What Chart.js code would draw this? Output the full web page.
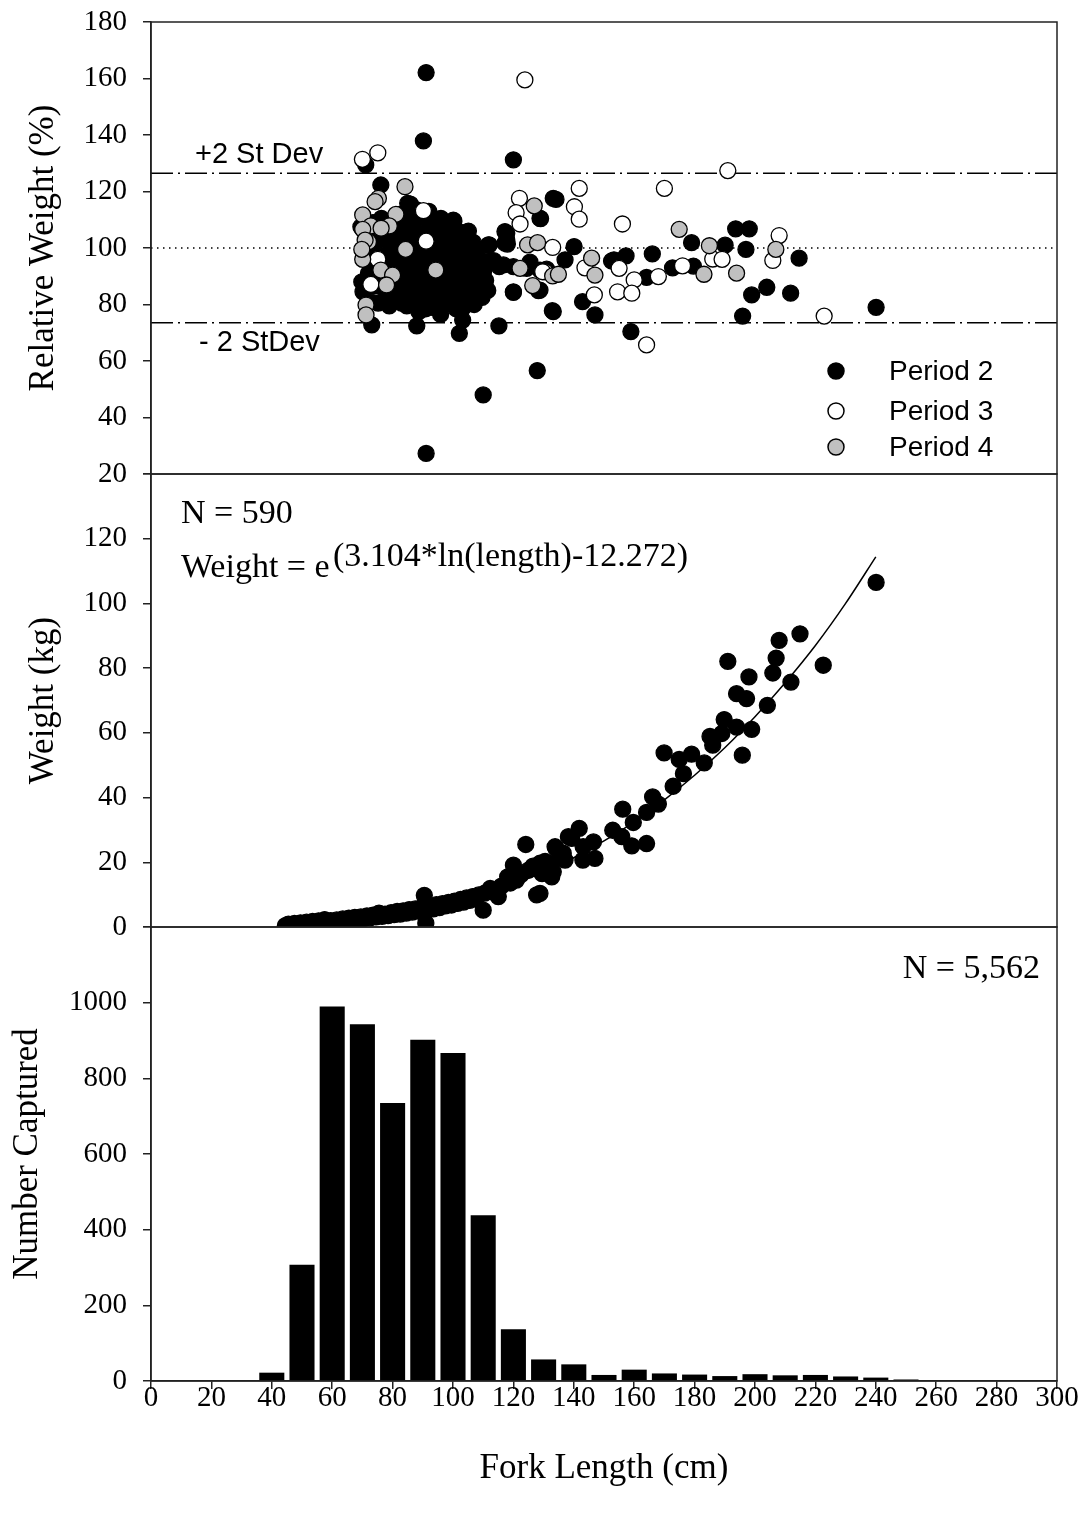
<!DOCTYPE html>
<html>
<head>
<meta charset="utf-8">
<script src="https://cdn.jsdelivr.net/npm/chart.js@4"></script>
<style>
  body { margin: 0; background: #fff; }
  #wrap { position: relative; width: 1084px; height: 1515px; overflow: hidden; }
  #wrap canvas { position: absolute; left: 0; top: 0; }
  #wrap canvas#relChart { top: -20px; }
</style>
</head>
<body>
<div id="wrap">
  <canvas id="relChart" width="1084" height="1515"></canvas>
  <canvas id="wtChart" width="1084" height="1515"></canvas>
  <canvas id="lenChart" width="1084" height="1515"></canvas>
</div>
<script>
// ======================================================
// DATA
// ======================================================

// --- relative weight (%) vs fork length (cm) ---
const relPeriod2 = [
  // main cluster
  [69.5,107.5],[69.8,88],[70.2,84.5],[70.6,96.5],[71.5,104],[72,91],[72.4,81],[73,99],[73.5,109],[74,86.5],
  [74.8,94],[75.2,80.5],[75.6,102.5],[76.3,110.5],[76.8,88.5],[77.2,97],[77.8,84],[78.2,105],[78.6,92],[78.9,79.5],
  [79.5,100.5],[80,108],[80.4,87.5],[80.8,95],[81.3,82],[81.7,103.5],[82.2,90.5],[82.6,112],[83,98],[83.4,85],
  [83.9,106.5],[84.3,93],[84.7,79.5],[85.1,101],[85.5,88.5],[85.9,115.5],[86.3,96.5],[86.8,83],[87.2,108.5],[87.6,91.5],
  [88,103.5],[88.3,86.5],[88.7,77.5],[89.1,98.5],[89.5,111],[89.9,93.5],[90.3,82],[90.7,105],[91.1,89],[91.5,99.5],
  [91.9,85],[92.3,109],[92.7,95],[93.1,79],[93.5,102],[93.9,88],[94.3,106.5],[94.7,92],[95.1,83.5],[95.5,98],
  [95.9,76.5],[96.3,104],[96.7,89.5],[97.1,94.5],[97.5,84.5],[97.9,108],[98.3,100],[98.7,80.5],[99.1,91],[99.5,96],
  [99.9,86],[100.3,109.5],[100.7,102.5],[101.1,93],[101.5,82.5],[101.9,97.5],[102.3,88.5],[102.7,105.5],[103.1,78.5],[103.5,94],
  [103.9,100.5],[104.3,85.5],[104.7,91],[105.1,106],[105.5,97],[105.9,81],[106.3,88],[106.7,102],[107.1,93.5],[107.5,84],
  [107.9,98.5],[108.3,90.5],[108.7,87],[109.1,95.5],[109.6,82.5],[110.2,92],[110.8,88.5],[111.5,85],
  [82,95.5],[84,88],[86,92],[88,96],[90,88.5],[92,91],[94,97.5],[96,93],[98,88.5],[100,98],[102,92],[104,96.5],[106,93],
  [83,102.5],[85,106],[87,100],[89,104],[91,102.5],[93,106],[95,101],[97,103.5],[99,105.5],[101,101],[103,103.5],
  [81,86],[83,80.5],[85,84],[87,87.5],[89,80.5],[91,78.5],[93,84],[95,87.5],[97,80],[99,83],[101,78.5],[103,83],
  [105,87],[107,80],[92,113],[96,110.5],[88,113.5],[84,110],[100,107],
  // tail and scattered fish
  [111.7,101.1],[117.8,102.8],[111.7,94.6],[116.7,94],[124.4,92.8],[128.8,92.2],[120,84.5],[128.8,85.1],[133.2,77.5],
  [133.2,117.6],[128.8,110.5],[117.2,105.8],[117.2,101.7],[113.5,95.5],[125.5,95],[131,92.5],
  [91.1,162.1],[90.2,137.9],[120,131.2],[71.1,129.4],[76.1,122.3],[134.1,117.2],[85,115.8],[129,110.4],[117.8,105.2],
  [100.1,109.9],[93.3,108.5],[104.5,105.4],[112,101.1],[118,101.4],[140.1,100.5],[137.1,95.8],[112,95.5],[115.3,93.4],
  [120,93.4],[152.5,95.4],[157.3,97.2],[166,97.9],[179,101.9],[190.1,101],[193.6,106.8],[198.1,106.8],[197,99.5],
  [214.6,96.4],[172.7,93],[179.6,93.6],[164.1,89.6],[153.3,95.8],[120,84.3],[128.3,84.9],[142.9,81],[132.9,77.8],
  [147,76.3],[198.9,83.4],[203.9,86.1],[211.8,84],[195.9,75.9],[158.9,70.4],[102.1,69.8],[88,72.4],[103.2,74.5],
  [115.2,72.4],[73.1,72.8],[127.9,56.6],[110,48],[91.1,27.3],[240.1,79]
];
const relPeriod3 = [
  [123.8,159.5],[70,131.4],[75.1,133.7],[191,127.4],[141.8,121.1],[170,121.1],[122,117.6],[140.2,114.6],[141.8,110.2],
  [120.9,112.5],[122.2,108.5],[90.2,113.2],[156.1,108.5],[208,104.4],[133,100.2],[91.1,102.4],[186,96.1],[189.1,96],
  [205.9,95.6],[130.5,91.6],[143.7,93],[155,92.8],[160,88.7],[168,89.9],[154.5,84.5],[159.2,84],[176,93.7],[146.8,83.4],
  [164.1,65.7],[72.8,87.1],[75.1,96],[222.9,75.9],[129.7,91.6]
];
const relPeriod4 = [
  [84.1,121.7],[75.3,117.6],[74.2,116.4],[70.1,111.7],[81.1,111.9],[78.9,107.8],[72.8,107.8],[76.2,107],[70.1,106.6],
  [72,102.2],[70.9,102.8],[70.1,96],[69.8,99.5],[84.3,99.5],[76.1,92.2],[80,90.4],[78,86.9],[94.3,92.2],[71.2,79.8],
  [71.2,76.3],[122.2,92.8],[126.9,114.9],[124.7,101.1],[128,101.9],[126.4,86.7],[133,90.1],[145.9,96.4],[147,90.4],
  [174.9,106.6],[184.9,100.8],[183.1,90.7],[193.9,91.1],[206.9,99.5],[134.9,90.7]
];
const relMean = 100;
const relUpper = 126.5;
const relLower = 73.5;

// --- weight (kg) vs fork length (cm) ---
const weightObs = [
  [44.5,0.4],[45.5,0.9],[46.5,0.6],[47.5,1.1],[48.5,0.8],[49.5,1.3],[50.5,1.0],[51.5,1.5],[52.5,1.1],[53.5,1.7],
  [54.5,1.3],[55.5,1.9],[56.5,1.4],[57.5,2.3],[58.5,1.6],[59.5,2.0],[60.5,1.5],[61.5,2.2],[62.5,1.8],[63.5,2.5],
  [64.5,2.0],[65.5,2.7],[66.5,2.2],[67.5,3.0],[68.5,2.4],[69.5,3.1],[70.5,2.6],[71.5,3.4],[72.5,2.8],[73.5,3.7],
  [74.5,3.1],[75.5,4.3],[76.5,3.3],[77.5,4.0],[78.5,3.5],[79.5,4.4],[80.5,3.8],[81.5,4.8],[82.5,4.0],[83.5,5.0],
  [84.5,4.3],[85.5,5.4],[86.5,4.6],[87.5,5.6],[88.5,4.9],[89.5,6.0],[90.5,9.8],[91,1.2],[91.5,5.3],[92.5,6.4],
  [93.5,5.6],[94.5,6.9],[95.5,6.0],[96.5,7.2],[97.5,6.5],[98.5,7.6],[99.5,6.8],[100.5,8.0],[101.5,7.3],[102.5,8.5],
  [103.5,7.7],[104.5,9.0],[105.5,8.2],[106.5,9.4],[107.5,8.6],[108.5,9.9],[110,5.2],[110.5,10.5],[112.3,11.9],[113.5,10.8],
  [115,9.4],[116,12.6],[118.1,15.5],[119,13.6],[120,19.1],[121,14.5],[122.5,16.2],[124.1,25.5],[125,17.6],[126.5,18.8],
  [127.7,9.9],[128.8,19.7],[129.5,16.5],[130.5,20.3],[131.5,18.0],[133.2,17.1],[134.1,24.3],[135,21.5],[136.5,22.8],[138.2,27.9],
  [128.8,10.4],[132.7,15.5],[137.1,20.7],[143,20.7],[147,21.2],[133.8,24.8],[143.1,24.8],[139.3,27.4],[146.5,26.3],[141.8,30.5],
  [159.2,25.1],[164.1,25.8],[155.9,27.9],[152.9,29.9],[159.7,32.3],[156.2,36.4],[164.1,35.4],[168,38],[166.1,40.2],[172.9,43.5],
  [176.3,47.4],[183.2,50.7],[179,53.4],[174.9,51.8],[169.9,53.8],[186,56.2],[185.1,58.9],[189,59.8],[189.8,64.1],[193.9,61.8],
  [195.8,53.1],[198.9,61.1],[204.1,68.5],[197.2,70.6],[193.9,72.1],[198,77.3],[211.9,75.7],[191,82.1],[205.9,78.5],[207,83.1],
  [208,88.6],[214.9,90.6],[222.6,80.9],[240.1,106.5]
];
// fitted curve
const fitLength = [45, 50, 60, 70, 80, 90, 100, 110, 120, 130, 140, 150, 160, 170, 180, 190, 200, 210, 220, 230, 240];
const fitWeight = [0.6, 0.9, 1.5, 2.3, 3.8, 5.4, 7.6, 10.1, 13.3, 17.0, 21.4, 26.6, 32.5, 39.3, 46.9, 55.4, 65.0, 75.5, 87.0, 100.0, 114.4];

// --- length frequency (10 cm bins) ---
const binCenters = [40, 50, 60, 70, 80, 90, 100, 110, 120, 130, 140, 150, 160, 170, 180, 190, 200, 210, 220, 230, 240, 250];
const binCounts  = [22, 307, 990, 943, 735, 902, 867, 438, 137, 57, 44, 16, 30, 20, 17, 13, 18, 15, 16, 12, 9, 4];

const lengthTicks = { min: 0, max: 300, step: 20 };

// ======================================================
// ESTILOS COMUNES
// ======================================================
const SERIF = "'Liberation Serif', 'Times New Roman', serif";
const SANS = "'Liberation Sans', Arial, sans-serif";
const INK = "#000";
const AXIS = "#222";

Chart.defaults.font.family = SERIF;
Chart.defaults.color = INK;
Chart.defaults.animation = false;

const PLOT_LEFT = 151;
const PLOT_RIGHT = 1057;

function yAxis(min, max, step, title, titlePad, hideTop) {
  return {
    type: "linear",
    position: "left",
    min: min,
    max: max,
    afterFit: (s) => { s.width = PLOT_LEFT; },
    border: { display: true, color: AXIS, width: 1.5 },
    grid: { drawOnChartArea: false, drawTicks: true, tickLength: 8, color: AXIS, lineWidth: 1.5 },
    ticks: {
      stepSize: step,
      padding: 16,
      color: INK,
      font: { family: SERIF, size: 29 },
      callback: (v) => (hideTop && v === max ? "" : v),
    },
    title: { display: true, text: title, color: INK, font: { family: SERIF, size: 35 }, padding: { top: titlePad, bottom: 0 } },
  };
}

function hiddenX() {
  return { type: "linear", min: lengthTicks.min, max: lengthTicks.max, display: false };
}

// marco del panel + textos sueltos
const panelPlugin = {
  id: "panel",
  afterDraw(chart, args, opts) {
    const { ctx, chartArea: a } = chart;
    const dy = opts.shift || 0; // desplazamiento del lienzo
    ctx.save();
    ctx.strokeStyle = AXIS;
    ctx.lineWidth = 1.5;
    ctx.strokeRect(a.left, a.top, a.right - a.left, a.bottom - a.top);
    (opts.texts || []).forEach((t) => {
      ctx.font = t.font;
      ctx.fillStyle = INK;
      ctx.textAlign = t.align || "left";
      ctx.textBaseline = "alphabetic";
      ctx.fillText(t.text, t.x, t.y + dy);
    });
    if (opts.legend) {
      opts.legend.forEach((l) => {
        ctx.beginPath();
        ctx.arc(l.x, l.y + dy, 8, 0, Math.PI * 2);
        ctx.fillStyle = l.fill;
        ctx.fill();
        ctx.lineWidth = 1.5;
        ctx.strokeStyle = INK;
        ctx.stroke();
        ctx.font = "28px " + SANS;
        ctx.fillStyle = INK;
        ctx.textAlign = "left";
        ctx.textBaseline = "middle";
        ctx.fillText(l.text, l.x + 53, l.y + 1 + dy);
      });
    }
    ctx.restore();
  },
};

function pointSet(label, data, fill, order) {
  return {
    label: label,
    data: data,
    backgroundColor: fill,
    borderColor: INK,
    borderWidth: 1.3,
    pointRadius: 8,
    pointHoverRadius: 8,
    order: order,
  };
}

function refLine(y, dash) {
  return {
    data: [[lengthTicks.min, y], [lengthTicks.max, y]],
    showLine: true,
    pointRadius: 0,
    borderColor: INK,
    borderWidth: 1.5,
    borderDash: dash,
    order: 10,
  };
}

// ======================================================
// PANEL 1: peso relativo (lienzo subido 20 px)
// ======================================================
const REL_SHIFT = 20;
new Chart(document.getElementById("relChart"), {
  type: "scatter",
  data: {
    datasets: [
      pointSet("Period 2", relPeriod2, "#000", 3),
      pointSet("Period 3", relPeriod3, "#fff", 2),
      pointSet("Period 4", relPeriod4, "#c0c0c0", 1),
      refLine(relUpper, [22, 5, 2, 5]),
      refLine(relMean, [1.5, 4.5]),
      refLine(relLower, [22, 5, 2, 5]),
    ],
  },
  options: {
    responsive: false,
    events: [],
    layout: { padding: { top: 22 + REL_SHIFT, bottom: 1515 - 474 - REL_SHIFT, left: 0, right: 1084 - PLOT_RIGHT } },
    scales: {
      x: hiddenX(),
      y: yAxis(20, 180, 20, "Relative Weight (%)", 23, false),
    },
    plugins: {
      legend: { display: false },
      tooltip: { enabled: false },
      panel: {
        shift: REL_SHIFT,
        texts: [
          { text: "+2 St Dev", x: 195, y: 163, font: "29px " + SANS },
          { text: "- 2 StDev", x: 199, y: 351, font: "29px " + SANS },
        ],
        legend: [
          { text: "Period 2", x: 836, y: 371, fill: "#000" },
          { text: "Period 3", x: 836, y: 411, fill: "#fff" },
          { text: "Period 4", x: 836, y: 447, fill: "#c0c0c0" },
        ],
      },
    },
  },
  plugins: [panelPlugin],
});

// ======================================================
// PANEL 2: peso vs longitud
// ======================================================
new Chart(document.getElementById("wtChart"), {
  type: "scatter",
  data: {
    datasets: [
      pointSet("Weight", weightObs, "#000", 2),
      {
        label: "Fit",
        data: fitLength.map((x, i) => [x, fitWeight[i]]),
        showLine: true,
        pointRadius: 0,
        borderColor: INK,
        borderWidth: 1.5,
        tension: 0.3,
        order: 1,
      },
    ],
  },
  options: {
    responsive: false,
    events: [],
    layout: { padding: { top: 474, bottom: 1515 - 927, left: 0, right: 1084 - PLOT_RIGHT } },
    scales: {
      x: hiddenX(),
      y: yAxis(0, 140, 20, "Weight (kg)", 23, true),
    },
    plugins: {
      legend: { display: false },
      tooltip: { enabled: false },
      panel: {
        texts: [
          { text: "N = 590", x: 181, y: 523, font: "34px " + SERIF },
          { text: "Weight = e", x: 181, y: 577, font: "34px " + SERIF },
          { text: "(3.104*ln(length)-12.272)", x: 333, y: 566, font: "34px " + SERIF },
        ],
      },
    },
  },
  plugins: [panelPlugin],
});

// ======================================================
// PANEL 3: frecuencia de longitudes
// ======================================================
new Chart(document.getElementById("lenChart"), {
  type: "bar",
  data: {
    datasets: [
      {
        label: "Number Captured",
        data: binCenters.map((x, i) => ({ x: x, y: binCounts[i] })),
        backgroundColor: "#000",
        borderWidth: 0,
        barPercentage: 0.83,
        categoryPercentage: 1,
      },
    ],
  },
  options: {
    responsive: false,
    events: [],
    layout: { padding: { top: 927, bottom: 0, left: 0, right: 1084 - PLOT_RIGHT } },
    scales: {
      x: {
        type: "linear",
        min: lengthTicks.min,
        max: lengthTicks.max,
        offset: false,
        afterFit: (s) => { s.height = 1515 - 1381; },
        border: { display: true, color: AXIS, width: 1.5 },
        grid: { offset: false, drawOnChartArea: false, drawTicks: true, tickLength: 8, color: AXIS, lineWidth: 1.5 },
        ticks: {
          stepSize: lengthTicks.step,
          padding: -8,
          maxRotation: 0,
          autoSkip: false,
          color: INK,
          font: { family: SERIF, size: 29 },
        },
        title: { display: true, text: "Fork Length (cm)", color: INK, font: { family: SERIF, size: 35 }, padding: { top: 0, bottom: 25 } },
      },
      y: yAxis(0, 1200, 200, "Number Captured", 7, true),
    },
    plugins: {
      legend: { display: false },
      tooltip: { enabled: false },
      panel: {
        texts: [
          { text: "N = 5,562", x: 1040, y: 978, font: "34px " + SERIF, align: "right" },
        ],
      },
    },
  },
  plugins: [panelPlugin],
});
</script>
</body>
</html>
